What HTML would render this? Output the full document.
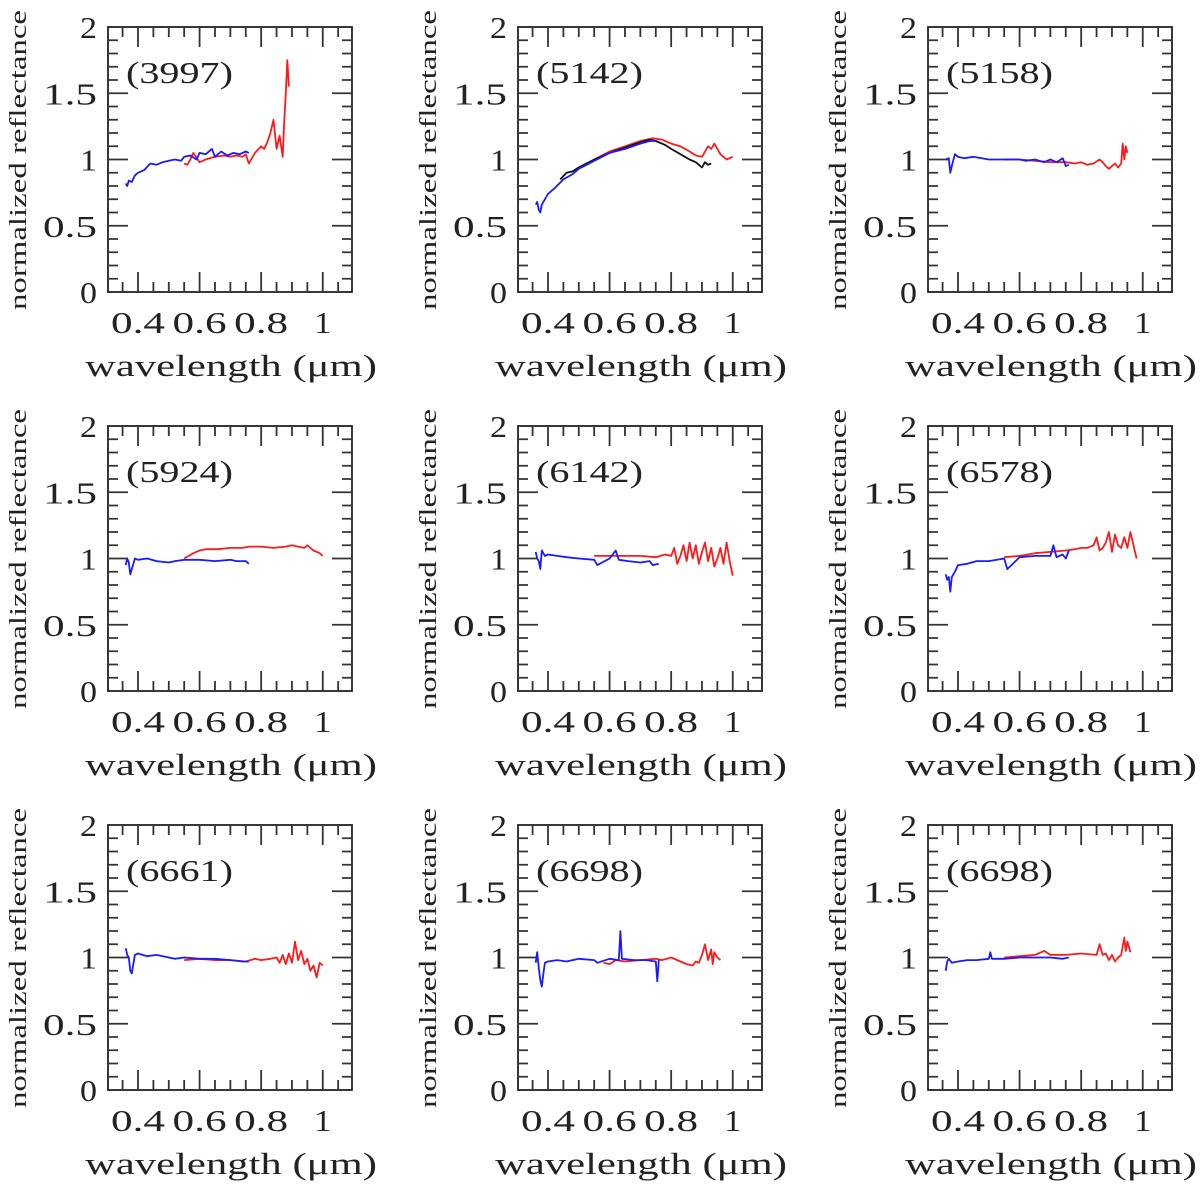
<!DOCTYPE html>
<html><head><meta charset="utf-8"><style>
html,body{margin:0;padding:0;background:#fff;}
svg{display:block;font-family:"Liberation Serif","DejaVu Serif",serif;}
</style></head><body>
<svg id="fig" width="1200" height="1193" viewBox="0 0 1200 1193"></svg>
<script>
const panelNames = ["(3997)","(5142)","(5158)","(5924)","(6142)","(6578)","(6661)","(6698)","(6698)"];
const xTicks = [0.4,0.6,0.8,1];
const xTickLabels = ["0.4","0.6","0.8","1"];
const yTicks = [0,0.5,1,1.5,2];
const yTickLabels = ["0","0.5","1","1.5","2"];

const blueX = [
 [0.36,0.365,0.37,0.38,0.39,0.4,0.42,0.44,0.46,0.48,0.5,0.52,0.54,0.55,0.57,0.59,0.6,0.62,0.64,0.65,0.67,0.69,0.71,0.73,0.75,0.76],
 [0.36,0.365,0.37,0.375,0.38,0.39,0.4,0.42,0.45,0.48,0.5,0.55,0.6,0.65,0.7,0.73,0.75],
 [0.36,0.37,0.375,0.38,0.39,0.4,0.42,0.45,0.5,0.55,0.6,0.62,0.65,0.68,0.7,0.72,0.74,0.75,0.76],
 [0.36,0.365,0.37,0.375,0.38,0.39,0.4,0.43,0.46,0.5,0.52,0.55,0.6,0.65,0.7,0.72,0.75,0.76],
 [0.36,0.365,0.37,0.375,0.38,0.39,0.4,0.43,0.46,0.5,0.55,0.56,0.6,0.62,0.63,0.66,0.7,0.73,0.74,0.76],
 [0.36,0.365,0.37,0.375,0.38,0.39,0.4,0.43,0.46,0.5,0.55,0.56,0.6,0.65,0.7,0.71,0.72,0.74,0.75,0.76],
 [0.36,0.365,0.37,0.375,0.38,0.39,0.4,0.43,0.46,0.5,0.52,0.55,0.6,0.65,0.7,0.74,0.76],
 [0.36,0.365,0.37,0.375,0.38,0.385,0.39,0.4,0.43,0.46,0.5,0.55,0.56,0.6,0.63,0.635,0.64,0.68,0.72,0.75,0.755,0.76],
 [0.36,0.365,0.37,0.38,0.4,0.43,0.46,0.5,0.505,0.51,0.55,0.6,0.65,0.7,0.74,0.76]
];
const blueY = [
 [0.82,0.8,0.84,0.83,0.88,0.9,0.92,0.97,0.96,0.98,0.99,1.0,0.99,1.02,1.03,1.0,1.05,1.04,1.08,1.02,1.06,1.03,1.05,1.04,1.06,1.05],
 [0.66,0.68,0.62,0.6,0.66,0.7,0.74,0.78,0.85,0.89,0.93,0.99,1.05,1.08,1.12,1.14,1.14],
 [1.0,1.01,0.9,0.95,1.04,1.02,1.01,1.02,1.0,1.0,1.0,0.99,1.0,0.98,1.0,0.98,1.01,0.95,0.96],
 [0.95,1.0,0.97,0.88,0.92,1.0,0.99,1.0,0.98,0.97,0.98,0.99,0.99,0.98,0.99,0.98,0.98,0.96],
 [1.05,1.0,0.98,0.92,1.06,1.02,1.03,1.02,1.01,1.0,0.99,0.95,1.0,1.06,0.99,0.98,0.97,0.98,0.95,0.96],
 [0.88,0.84,0.86,0.75,0.86,0.9,0.95,0.96,0.98,0.98,1.0,0.92,1.01,1.02,1.02,1.1,1.01,1.03,1.0,1.06],
 [1.07,1.02,1.0,0.9,0.88,1.02,1.03,1.01,1.02,1.0,0.99,1.0,0.99,0.99,0.98,0.97,0.97],
 [0.96,1.04,0.92,0.83,0.78,0.88,0.96,0.97,0.98,0.97,0.99,0.98,0.96,0.99,0.98,1.2,0.99,0.98,0.98,0.97,0.82,0.98],
 [0.9,0.97,0.99,0.96,0.97,0.98,0.98,0.99,1.04,0.99,0.99,1.0,1.0,1.0,0.99,1.0]
];
const redX = [
 [0.55,0.56,0.57,0.58,0.6,0.62,0.65,0.68,0.7,0.72,0.74,0.75,0.76,0.78,0.8,0.81,0.82,0.83,0.84,0.85,0.86,0.87,0.875,0.88,0.885,0.89],
 [0.55,0.6,0.65,0.7,0.74,0.77,0.8,0.83,0.86,0.88,0.9,0.92,0.93,0.94,0.95,0.96,0.98,1.0],
 [0.55,0.6,0.65,0.7,0.75,0.78,0.8,0.82,0.84,0.86,0.87,0.88,0.89,0.9,0.91,0.92,0.93,0.935,0.94,0.945,0.95],
 [0.55,0.58,0.6,0.62,0.66,0.7,0.74,0.76,0.8,0.84,0.88,0.9,0.92,0.94,0.95,0.97,0.99,1.0],
 [0.55,0.6,0.65,0.7,0.75,0.78,0.8,0.81,0.82,0.83,0.84,0.85,0.86,0.87,0.88,0.89,0.9,0.91,0.92,0.93,0.94,0.95,0.96,0.97,0.98,0.99,1.0],
 [0.55,0.6,0.65,0.7,0.75,0.78,0.8,0.82,0.84,0.85,0.86,0.87,0.88,0.89,0.9,0.91,0.92,0.93,0.94,0.95,0.96,0.97,0.98],
 [0.55,0.6,0.65,0.7,0.75,0.78,0.8,0.83,0.85,0.86,0.87,0.88,0.89,0.9,0.91,0.92,0.93,0.94,0.95,0.96,0.97,0.98,0.99,1.0],
 [0.58,0.6,0.62,0.65,0.7,0.75,0.77,0.8,0.83,0.85,0.87,0.88,0.89,0.9,0.91,0.92,0.93,0.935,0.94,0.95,0.96],
 [0.55,0.6,0.65,0.68,0.7,0.75,0.8,0.85,0.86,0.87,0.88,0.89,0.9,0.91,0.92,0.93,0.94,0.945,0.95,0.96]
];
const redY = [
 [0.97,0.96,1.0,1.05,0.98,1.0,1.02,1.03,1.02,1.03,1.02,1.04,0.97,1.05,1.1,1.08,1.13,1.2,1.3,1.08,1.18,1.02,1.3,1.5,1.75,1.55],
 [1.0,1.06,1.1,1.14,1.16,1.15,1.12,1.1,1.06,1.03,1.02,1.1,1.08,1.12,1.08,1.04,1.0,1.02],
 [1.0,1.0,0.99,0.98,0.98,0.97,0.98,0.96,0.97,1.0,0.98,0.95,0.93,0.95,0.97,0.94,0.97,1.12,1.0,1.1,1.05],
 [1.0,1.04,1.06,1.07,1.07,1.08,1.08,1.09,1.09,1.08,1.09,1.1,1.09,1.08,1.1,1.06,1.04,1.02],
 [1.02,1.02,1.02,1.02,1.01,1.03,1.02,1.08,0.96,1.02,1.1,0.98,1.12,1.0,1.1,0.96,1.05,1.12,0.98,1.08,0.94,1.0,1.08,0.96,1.12,0.98,0.87],
 [1.01,1.02,1.04,1.05,1.06,1.07,1.08,1.08,1.1,1.16,1.06,1.08,1.12,1.2,1.05,1.18,1.1,1.08,1.16,1.08,1.2,1.1,1.0],
 [0.98,0.99,0.98,0.98,0.97,0.99,0.98,0.99,1.0,0.96,1.02,0.95,1.03,0.96,1.12,0.98,1.05,0.95,0.99,0.9,0.94,0.85,0.96,0.94],
 [0.96,0.95,0.98,0.97,0.98,0.99,0.98,1.0,0.97,0.95,0.94,0.97,0.96,1.02,1.1,0.98,1.06,0.95,1.04,1.0,0.98],
 [1.0,1.01,1.02,1.05,1.02,1.02,1.03,1.02,1.1,1.02,1.03,0.98,1.02,0.97,1.0,1.02,1.15,1.05,1.12,1.04]
];
const blackX = [0.44,0.46,0.48,0.5,0.55,0.6,0.65,0.7,0.73,0.75,0.78,0.8,0.83,0.86,0.88,0.9,0.91,0.92,0.93];
const blackY = [0.85,0.9,0.91,0.94,1.0,1.05,1.09,1.13,1.15,1.14,1.11,1.08,1.04,1.0,0.98,0.94,0.98,0.96,0.97];

const NS = "http://www.w3.org/2000/svg";
const svg = document.getElementById("fig");
const W = 244, H = 265, XMIN = 0.3026, XMAX = 1.095, YMIN = 0, YMAX = 2;
function mk(tag, attrs, parent){const e=document.createElementNS(NS,tag);for(const k in attrs)e.setAttribute(k,attrs[k]);parent.appendChild(e);return e;}
function lenFor(s){return s.length === 1 ? 17 : 54;}

for (let p = 0; p < 9; p++) {
  const c = p % 3, r = Math.floor(p / 3);
  const L = 108 + c * 410, T = 27 + r * 399;
  const sx = v => L + (v - XMIN) / (XMAX - XMIN) * W;
  const sy = v => T + H - (v - YMIN) / (YMAX - YMIN) * H;
  const g = mk("g", {}, svg);
  
  
  const frame = mk("rect", {x:L, y:T, width:W, height:H, fill:"none", stroke:"#222", "stroke-width":1.8}, g);
  
  
  let tp = "";
  for (let i = 0; i <= 16; i++) {
    const v = 0.35 + i * 0.05; if (v > XMAX) break;
    const major = Math.abs(v*10 - Math.round(v*10)) < 1e-6 && Math.round(v*10) % 2 === 0;
    const len = major ? 20 : 10, x = sx(v);
    tp += `M${x},${T+H}v${-len}M${x},${T}v${len}`;
  }
  for (let i = 1; i < 20; i++) {
    const v = i * 0.1, major = i % 5 === 0, len = major ? 20 : 10, y = sy(v);
    tp += `M${L},${y}h${len}M${L+W},${y}h${-len}`;
  }
  const ticks = mk("path", {d:tp, stroke:"#333", "stroke-width":1.8, fill:"none"}, g);
  
  
  xTicks.forEach((v, i) => {
    const s = xTickLabels[i];
    const t = mk("text", {x:sx(v) - lenFor(s)/2, y:T+H+41, "font-size":31, textLength:lenFor(s), lengthAdjust:"spacingAndGlyphs", fill:"#222"}, g);
    t.textContent = s;
    
    
  });
  yTicks.forEach((v, i) => {
    const s = yTickLabels[i];
    const t = mk("text", {x:L-11-lenFor(s), y:sy(v)+11, "font-size":31, textLength:lenFor(s), lengthAdjust:"spacingAndGlyphs", fill:"#222"}, g);
    t.textContent = s;
    
    
  });
  const xl = mk("text", {x:L-23, y:T+349, "font-size":31, textLength:292, lengthAdjust:"spacingAndGlyphs", fill:"#222"}, g);
  xl.textContent = "wavelength (\u03bcm)";
  
  
  const yl = mk("text", {x:-150, y:0, "font-size":24, textLength:300, lengthAdjust:"spacingAndGlyphs", fill:"#222", transform:`translate(${L-82},${T+133}) rotate(-90)`}, g);
  yl.textContent = "normalized reflectance";
  
  
  const pl = mk("text", {x:L+18, y:T+56, "font-size":31, textLength:107, lengthAdjust:"spacingAndGlyphs", fill:"#222"}, g);
  pl.textContent = panelNames[p];
  
  
  const line = (xs, ys, col, name) => {
    const d = xs.map((v, i) => (i ? "L" : "M") + sx(v).toFixed(1) + "," + sy(ys[i]).toFixed(1)).join("");
    const e = mk("path", {d, stroke:col, "stroke-width":1.8, fill:"none", "stroke-linejoin":"round"}, g);
    
    
  };
  line(redX[p], redY[p], "#ff1a1a", "red-spectrum");
  if (p === 1) line(blackX, blackY, "#111", "black-spectrum");
  line(blueX[p], blueY[p], "#1a1aff", "blue-spectrum");
}
</script>
</body></html>
